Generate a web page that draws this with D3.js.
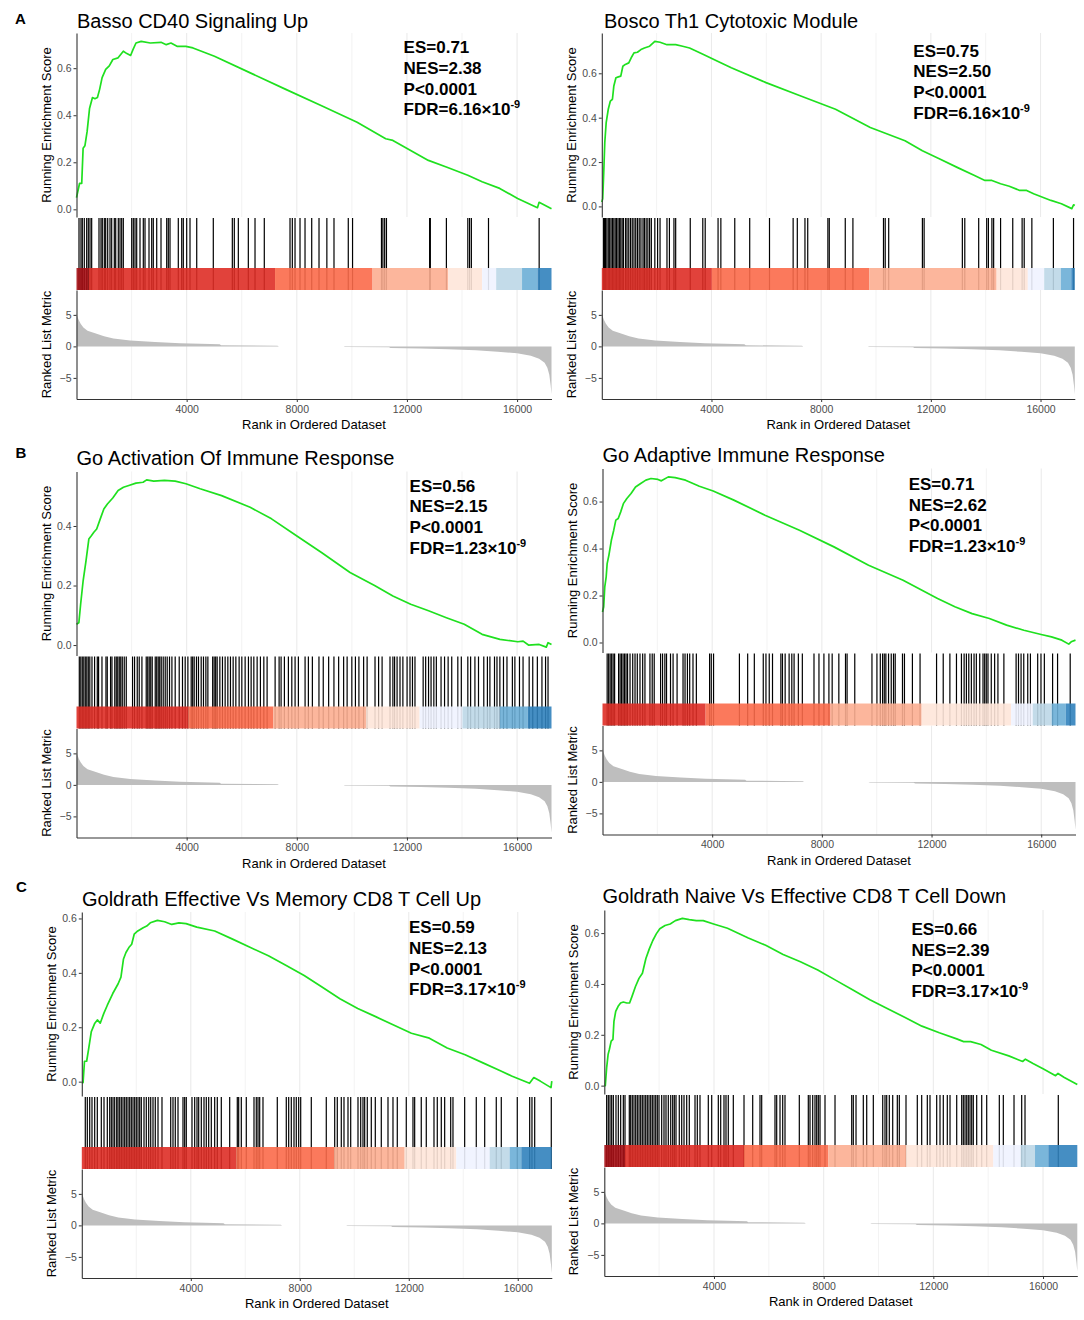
<!DOCTYPE html>
<html>
<head>
<meta charset="utf-8">
<script src="https://cdn.jsdelivr.net/npm/d3@7"></script>
<style>
  body { margin: 0; background: #fff; }
  text { font-family: "Liberation Sans", Arial, sans-serif; }
</style>
</head>
<body>
<div id="chart"></div>
<script>
// ---- data ----
const nGenes = 17250;
const rankTicks = [4000, 8000, 12000, 16000];
const rankGrid = [2000, 4000, 6000, 8000, 10000, 12000, 14000, 16000];
const esTicks = [0, 0.2, 0.4, 0.6];
const metricTicks = [-5, 0, 5];
const metricDomain = [-8.35, 8.95];
const barColors = ["#A50F15", "#DE2D26", "#FB6A4A", "#FCAE91", "#FEE5D9",
                   "#EFF3FF", "#BDD7E7", "#6BAED6", "#3182BD", "#08519C"];

const panelLetters = ["A", "B", "C"];
const titles = ["Basso CD40 Signaling Up", "Bosco Th1 Cytotoxic Module",
                "Go Activation Of Immune Response", "Go Adaptive Immune Response",
                "Goldrath Effective Vs Memory CD8 T Cell Up", "Goldrath Naive Vs Effective CD8 T Cell Down"];
const esLabels = ["0.71", "0.75", "0.56", "0.71", "0.59", "0.66"];
const nesLabels = ["2.38", "2.50", "2.15", "2.62", "2.13", "2.39"];
const pLabels = ["<0.0001", "<0.0001", "<0.0001", "<0.0001", "<0.0001", "<0.0001"];
const fdrLabels = ["6.16", "6.16", "1.23", "1.23", "3.17", "3.17"];
const fdrExp = ["-9", "-9", "-9", "-9", "-9", "-9"];

// ranked list metric (shared gene list)
const rankedMetric = [[0,5.3],[30,4.8],[80,4.2],[150,3.6],[250,3.0],[400,2.5],[730,2.0],[1000,1.6],[1340,1.25],
  [1950,0.95],[2850,0.68],[3760,0.5],[4500,0.4],[5200,0.33],[5250,0.18],[7300,0.12],[7350,0],[9700,0],
  [9750,-0.1],[11350,-0.12],[11400,-0.25],[12500,-0.32],[13500,-0.45],[14500,-0.62],[15300,-0.85],
  [16000,-1.1],[16500,-1.5],[16800,-1.95],[17000,-2.6],[17100,-3.4],[17170,-4.5],[17220,-6.2],[17250,-7.6]];

// running enrichment score curves [rank, ES]
const esCurveA1 = [[0,0.05],[110,0.11],[190,0.11],[240,0.26],[305,0.27],[385,0.33],[475,0.43],[580,0.475],[670,0.47],
  [760,0.475],[840,0.51],[930,0.56],[1060,0.595],[1190,0.61],[1320,0.637],[1510,0.644],[1700,0.672],[1830,0.662],
  [1965,0.654],[2055,0.68],[2160,0.707],[2350,0.714],[2680,0.707],[3070,0.71],[3260,0.70],[3430,0.707],[3650,0.693],
  [3970,0.693],[4230,0.686],[5010,0.651],[6310,0.58],[7600,0.51],[8900,0.44],[10190,0.37],[11230,0.30],[11490,0.293],
  [12780,0.208],[13430,0.18],[14210,0.145],[14730,0.117],[15370,0.089],[16020,0.046],[16740,0.007],[16800,0.03],[17250,0.003]];
const esCurveA2 = [[0,0.02],[33,0.034],[71,0.154],[109,0.288],[160,0.378],[236,0.438],[312,0.475],[388,0.483],[439,0.543],
  [515,0.58],[604,0.584],[692,0.587],[768,0.632],[857,0.64],[984,0.647],[1072,0.67],[1174,0.692],[1300,0.695],[1427,0.707],
  [1554,0.714],[1744,0.722],[1934,0.744],[2124,0.74],[2377,0.729],[2694,0.729],[2948,0.722],[3201,0.714],[3708,0.685],
  [4088,0.662],[4722,0.625],[5989,0.558],[7257,0.498],[8524,0.438],[9791,0.356],[11058,0.296],[11692,0.251],[12326,0.214],
  [12959,0.176],[13593,0.139],[13973,0.117],[14227,0.117],[14543,0.102],[14860,0.091],[15240,0.072],[15494,0.072],
  [15747,0.057],[16381,0.027],[16761,0.012],[17141,-0.010],[17205,0.007],[17250,0.004]];
const esCurveB1 = [[0,0.07],[86,0.075],[150,0.137],[241,0.216],[345,0.283],[448,0.356],[539,0.367],[630,0.379],[733,0.39],
  [863,0.424],[993,0.457],[1122,0.474],[1317,0.494],[1511,0.519],[1705,0.53],[1900,0.536],[2159,0.544],[2418,0.547],
  [2547,0.555],[2806,0.551],[3195,0.553],[3584,0.551],[3973,0.542],[4491,0.525],[5269,0.502],[6305,0.463],[7083,0.424],
  [7990,0.367],[8897,0.311],[9934,0.244],[10841,0.199],[11489,0.165],[12137,0.137],[12785,0.115],[13433,0.092],
  [14081,0.07],[14729,0.036],[15377,0.019],[16025,0.011],[16219,0.013],[16414,0.0],[16802,0.002],[17061,-0.007],
  [17126,0.008],[17250,0.002]];
const esCurveB2 = [[0,0.13],[44,0.152],[83,0.237],[134,0.279],[170,0.336],[234,0.372],[323,0.435],[410,0.478],[486,0.521],
  [573,0.528],[664,0.556],[761,0.591],[888,0.613],[1041,0.634],[1204,0.662],[1392,0.677],[1581,0.691],[1769,0.698],
  [2023,0.694],[2147,0.688],[2400,0.705],[2651,0.702],[3028,0.691],[3532,0.665],[4036,0.645],[4790,0.606],[5925,0.542],
  [7183,0.478],[8441,0.407],[9703,0.329],[10962,0.265],[12220,0.187],[12851,0.152],[13478,0.123],[14109,0.102],
  [14737,0.074],[15367,0.052],[15998,0.034],[16375,0.024],[16752,0.01],[17004,-0.007],[17093,0.003],[17250,0.01]];
const esCurveC1 = [[0,-0.004],[46,-0.004],[99,0.075],[178,0.075],[257,0.124],[349,0.184],[478,0.215],[571,0.227],[676,0.215],
  [808,0.251],[937,0.281],[1136,0.324],[1334,0.36],[1437,0.384],[1530,0.451],[1621,0.475],[1727,0.493],[1831,0.505],
  [1923,0.542],[2055,0.554],[2253,0.566],[2383,0.572],[2514,0.584],[2776,0.593],[3040,0.588],[3301,0.578],[3566,0.584],
  [3827,0.581],[4220,0.568],[4878,0.554],[5533,0.524],[6191,0.493],[6849,0.463],[7503,0.427],[8161,0.39],[8815,0.348],
  [9473,0.305],[10127,0.269],[10785,0.239],[11443,0.208],[12098,0.178],[12756,0.16],[13410,0.124],[14068,0.099],
  [14723,0.069],[15381,0.039],[15774,0.021],[16432,-0.006],[16590,0.015],[16825,0.002],[17220,-0.022],[17250,0.002]];
const esCurveC2 = [[0,0.0],[36,0.0],[86,0.071],[139,0.123],[187,0.143],[251,0.175],[315,0.182],[352,0.253],[416,0.292],
  [504,0.312],[594,0.325],[694,0.329],[820,0.325],[922,0.325],[1011,0.351],[1137,0.39],[1265,0.422],[1390,0.442],
  [1517,0.5],[1645,0.539],[1769,0.571],[1896,0.597],[2024,0.617],[2214,0.63],[2403,0.636],[2593,0.649],[2848,0.658],
  [3100,0.653],[3355,0.649],[3607,0.649],[3986,0.636],[4493,0.619],[5252,0.581],[5886,0.552],[6521,0.516],[7152,0.487],
  [7786,0.455],[8417,0.416],[9052,0.377],[9686,0.338],[10317,0.303],[10952,0.269],[11583,0.234],[12218,0.208],
  [12852,0.184],[13104,0.173],[13359,0.173],[13738,0.162],[14117,0.139],[14750,0.117],[15256,0.095],[15357,0.104],
  [15635,0.087],[16017,0.065],[16458,0.039],[16547,0.048],[16776,0.032],[17250,0.004]];

// gene set hit positions (rank)
const hitsA1 = [91,163,211,283,370,429,490,551,817,890,937,1010,1060,1133,1217,1278,1373,1424,1518,1580,1641,1700,
  2005,2063,2125,2186,2306,2426,2488,2633,2731,2789,2913,3069,3276,3334,3396,3697,3821,3879,4002,4122,4366,4968,
  5659,5731,5877,6240,6483,6820,7754,7838,7936,8117,8299,8542,8807,9092,9351,9870,10025,11075,11127,11191,11256,
  12824,12850,13433,14211,14275,14340,14962,16802];
const hitsA2 = [58,96,134,185,236,287,337,388,439,489,540,591,641,692,743,793,869,920,983,1047,1110,1174,1237,1300,
  1364,1427,1503,1554,1617,1680,1744,1807,1934,2035,2124,2377,2466,2631,2694,3226,3683,3771,4240,4342,4849,5394,
  6116,6978,7130,7409,7510,8245,8296,8879,9158,10273,10336,10463,11692,11755,13149,13238,13745,14037,14100,14227,
  14290,14543,14987,15329,15405,15684,16469,17204];
const hitsB1 = [102,156,210,265,319,374,428,483,562,657,755,802,925,1070,1117,1237,1288,1390,1444,1498,1553,1607,1662,
  1734,1807,2035,2108,2206,2278,2376,2532,2587,2641,2696,2750,2859,2913,2968,3022,3077,3149,3222,3294,3378,3465,
  3584,3730,3849,3947,4045,4165,4219,4274,4357,4430,4528,4611,4698,4771,4945,4999,5054,5108,5206,5301,5398,5496,
  5591,5689,5787,5906,6004,6124,6244,6342,6440,6560,6679,6803,6922,7213,7358,7430,7550,7695,7819,7938,8058,8301,
  8421,8566,8805,8961,9157,9349,9520,9701,9828,9999,10129,10256,10427,10554,10841,10971,11098,11385,11490,11552,
  11642,11748,11853,12005,12111,12201,12292,12589,12680,12785,12876,12977,13068,13239,13366,13496,13627,13848,
  13975,14211,14313,14469,14599,14791,14922,15013,15180,15270,15375,15506,15633,15829,15920,16087,16217,16439,
  16569,16736,16903,17034,17124];
const hitsB2 = [170,225,279,334,388,442,587,642,696,751,805,859,914,1004,1102,1186,1269,1367,1465,1548,1730,1813,1886,
  2118,2190,2274,2335,2480,2574,2720,2937,3010,3097,3180,3300,3423,3905,3967,4050,4993,5294,5537,5863,5961,6081,
  6200,6505,6563,6661,6806,6904,6987,7143,7288,7713,7894,8075,8257,8376,8619,8862,8920,9200,9827,10008,10131,10214,
  10276,10334,10432,10530,10613,10675,10940,11012,11302,11581,12183,12426,12669,12909,13090,13188,13271,13358,
  13452,13550,13634,13757,13877,13938,13996,14058,14178,14301,14421,14638,15084,15171,15265,15363,15508,15606,
  15871,15991,16114,16415,16596,17057];
const hitsC1 = [128,202,290,374,473,569,716,815,936,1024,1083,1145,1207,1281,1329,1391,1450,1512,1574,1633,1696,1758,
  1817,1879,1941,2000,2063,2125,2184,2283,2367,2455,2529,2613,2697,2797,2943,3263,3347,3431,3531,3714,3776,3835,
  4044,4143,4228,4290,4386,4485,4569,4657,4753,4877,4973,5120,5428,5707,5758,5854,6037,6320,6404,6467,6529,6650,
  7175,7505,7593,7689,7788,7872,7960,8034,8423,8973,9282,9377,9524,9623,9770,9869,10137,10236,10320,10382,10478,
  10625,10772,10992,11238,11421,11579,11909,12155,12217,12459,12643,12926,13047,13194,13318,13539,13623,14052,
  14478,14787,15212,15396,15983,16438,16522,16622,17231];
const hitsC2 = [86,146,208,269,330,426,511,597,694,755,912,962,1021,1083,1145,1204,1266,1327,1386,1448,1510,1568,1630,
  1692,1751,1813,1875,1933,1995,2093,2177,2250,2334,2422,2494,2553,2615,2735,2823,2907,3005,3100,3308,3392,3490,
  3793,3917,4158,4245,4365,4438,4522,4705,5095,5412,5678,5740,6225,6287,6408,6506,6590,7112,7440,7502,7600,7684,
  7746,7805,7867,8049,8414,9023,9081,9180,9446,9570,9811,10154,10237,10299,10394,10518,10686,10759,11003,11415,
  11575,11780,11878,12122,12243,12363,12509,12608,12852,13034,13093,13155,13217,13275,13337,13399,13457,13581,
  13764,13946,14406,14552,14942,15222,15343,16557];

// colour bar segments [start rank, palette index]
const barA1 = [[0,0],[440,1],[7210,2],[10750,3],[13500,4],[14730,5],[15240,6],[16180,7],[16740,8]];
const barA2 = [[0,1],[4015,2],[9752,3],[14398,4],[15536,5],[16134,6],[16740,7],[17121,8]];
const barB1 = [[0,1],[4063,2],[7147,3],[10515,4],[12460,5],[14015,6],[15375,7],[16387,8]];
const barB2 = [[0,1],[3760,2],[8318,3],[11640,4],[14903,5],[15690,6],[16379,7],[16898,8]];
const barC1 = [[0,1],[5670,2],[9256,3],[11850,4],[13745,5],[14970,6],[15704,7],[16130,8]];
const barC2 = [[0,0],[755,1],[5095,2],[8170,3],[11003,4],[14187,5],[15186,6],[15708,7],[16193,8]];

const esCurves = [esCurveA1, esCurveA2, esCurveB1, esCurveB2, esCurveC1, esCurveC2];
const hitSets = [hitsA1, hitsA2, hitsB1, hitsB2, hitsC1, hitsC2];
const barSets = [barA1, barA2, barB1, barB2, barC1, barC2];

// ---- layout (pixels) ----
const layout = [
  {x0: 76.5, w: 475, top: 33,    titleX: 77,    titleY: 28.3, statX: 403.6, statY: 53.3},
  {x0: 601.8, w: 473, top: 33,   titleX: 604,   titleY: 28.3, statX: 913.3, statY: 56.7},
  {x0: 76.5, w: 475, top: 471.5, titleX: 76.5,  titleY: 465,  statX: 409.6, statY: 491.7},
  {x0: 602.5, w: 473, top: 468.5, titleX: 602.5, titleY: 461.7, statX: 908.7, statY: 490},
  {x0: 81.8, w: 470, top: 912,   titleX: 82,    titleY: 906,  statX: 409,   statY: 933.3},
  {x0: 604.3, w: 473, top: 910,  titleX: 602.5, titleY: 903.3, statX: 911.5, statY: 935}
];
const letterPos = [{x: 15, y: 24}, {x: 15.5, y: 458}, {x: 16, y: 892}];

const esH = 184, hitsGap = 1, hitsH = 50, barH = 22, metH = 109;
const green = "#1fe01f";
const axisCol = "#333333";
const tickTextCol = "#4d4d4d";

const svg = d3.select("#chart").append("svg")
  .attr("width", 1084).attr("height", 1320)
  .style("background", "#fff");

panelLetters.forEach((l, i) => {
  svg.append("text")
    .attr("x", letterPos[i].x).attr("y", letterPos[i].y)
    .style("font-size", "15px").style("font-weight", "bold")
    .text(l);
});

function styleAxis(sel) {
  sel.selectAll("path.domain").attr("stroke", axisCol).attr("stroke-width", 1.1);
  sel.selectAll(".tick line").attr("stroke", axisCol).attr("stroke-width", 1);
  sel.selectAll(".tick text").attr("fill", tickTextCol)
    .style("font-size", "10.5px")
    .style("font-family", "'Liberation Sans', Arial, sans-serif");
}

function drawPanel(i) {
  const lay = layout[i];
  const curve = esCurves[i];
  const g = svg.append("g").attr("class", "panel");

  const top = lay.top;
  const hitsTop = top + esH + hitsGap;
  const barTop = hitsTop + hitsH;
  const metTop = barTop + barH;
  const metBottom = metTop + metH;

  const x = d3.scaleLinear().domain([0, nGenes]).range([lay.x0, lay.x0 + lay.w]);

  const ext = d3.extent(curve, d => d[1]);
  const pad = (ext[1] - ext[0]) * 0.05;
  const yEs = d3.scaleLinear().domain([ext[0] - pad, ext[1] + pad]).range([top + esH, top]);
  const yMet = d3.scaleLinear().domain(metricDomain).range([metBottom, metTop]);

  // vertical grid lines in ES and metric panels
  [[top, top + esH], [metTop, metBottom]].forEach(([y1, y2]) => {
    g.selectAll(null).data(rankGrid).enter().append("line")
      .attr("x1", d => x(d)).attr("x2", d => x(d))
      .attr("y1", y1).attr("y2", y2)
      .attr("stroke", "#ebebeb")
      .attr("stroke-width", d => rankTicks.includes(d) ? 1.1 : 0.6);
  });

  // running ES curve
  g.append("path")
    .datum(curve)
    .attr("fill", "none")
    .attr("stroke", green)
    .attr("stroke-width", 1.7)
    .attr("stroke-linejoin", "round")
    .attr("d", d3.line().x(d => x(d[0])).y(d => yEs(d[1])));

  // hits
  g.selectAll(null).data(hitSets[i]).enter().append("line")
    .attr("x1", d => x(d)).attr("x2", d => x(d))
    .attr("y1", hitsTop).attr("y2", barTop + barH)
    .attr("stroke", "#000").attr("stroke-width", 1.2);

  // colour bar
  const segs = barSets[i];
  g.selectAll(null).data(segs).enter().append("rect")
    .attr("x", d => x(d[0]))
    .attr("width", (d, k) => x(k < segs.length - 1 ? segs[k + 1][0] : nGenes) - x(d[0]))
    .attr("y", barTop).attr("height", barH)
    .attr("fill", d => barColors[d[1]])
    .attr("opacity", 0.9);

  // ranked list metric
  g.append("path")
    .datum(rankedMetric)
    .attr("fill", "#bebebe")
    .attr("d", d3.area().x(d => x(d[0])).y0(yMet(0)).y1(d => yMet(d[1])));

  // axes
  const yEsAxis = g.append("g")
    .attr("transform", `translate(${lay.x0},0)`)
    .call(d3.axisLeft(yEs)
      .tickValues(esTicks.filter(t => t >= yEs.domain()[0] && t <= yEs.domain()[1]))
      .tickFormat(d3.format(".1f")).tickSize(3).tickSizeOuter(0).tickPadding(2));
  styleAxis(yEsAxis);

  const yMetAxis = g.append("g")
    .attr("transform", `translate(${lay.x0},0)`)
    .call(d3.axisLeft(yMet).tickValues(metricTicks).tickSize(3).tickSizeOuter(0).tickPadding(2));
  styleAxis(yMetAxis);

  const xAxis = g.append("g")
    .attr("transform", `translate(0,${metBottom})`)
    .call(d3.axisBottom(x).tickValues(rankTicks).tickFormat(d3.format("d")).tickSize(3).tickSizeOuter(0).tickPadding(3.5));
  styleAxis(xAxis);

  // axis titles
  g.append("text")
    .attr("transform", `translate(${lay.x0 - 30.5},${top + esH / 2}) rotate(-90)`)
    .attr("text-anchor", "middle").attr("dy", "0.35em")
    .style("font-size", "13px")
    .text("Running Enrichment Score");
  g.append("text")
    .attr("transform", `translate(${lay.x0 - 30.5},${metTop + metH / 2}) rotate(-90)`)
    .attr("text-anchor", "middle").attr("dy", "0.35em")
    .style("font-size", "13px")
    .text("Ranked List Metric");
  g.append("text")
    .attr("x", lay.x0 + lay.w / 2).attr("y", metBottom + 30)
    .attr("text-anchor", "middle")
    .style("font-size", "13px")
    .text("Rank in Ordered Dataset");

  // title
  g.append("text")
    .attr("x", lay.titleX).attr("y", lay.titleY)
    .style("font-size", "20px")
    .text(titles[i]);

  // stats
  const lines = ["ES=" + esLabels[i], "NES=" + nesLabels[i], "P" + pLabels[i]];
  const st = g.append("g").style("font-size", "17px").style("font-weight", "bold");
  lines.forEach((t, k) => {
    st.append("text").attr("x", lay.statX).attr("y", lay.statY + k * 20.6).text(t);
  });
  const fdr = st.append("text").attr("x", lay.statX).attr("y", lay.statY + 3 * 20.6);
  fdr.append("tspan").text("FDR=" + fdrLabels[i] + "\u00d710");
  fdr.append("tspan").attr("dy", -7).style("font-size", "11px").text(fdrExp[i]);
}

for (let i = 0; i < 6; i++) drawPanel(i);
</script>
</body>
</html>
